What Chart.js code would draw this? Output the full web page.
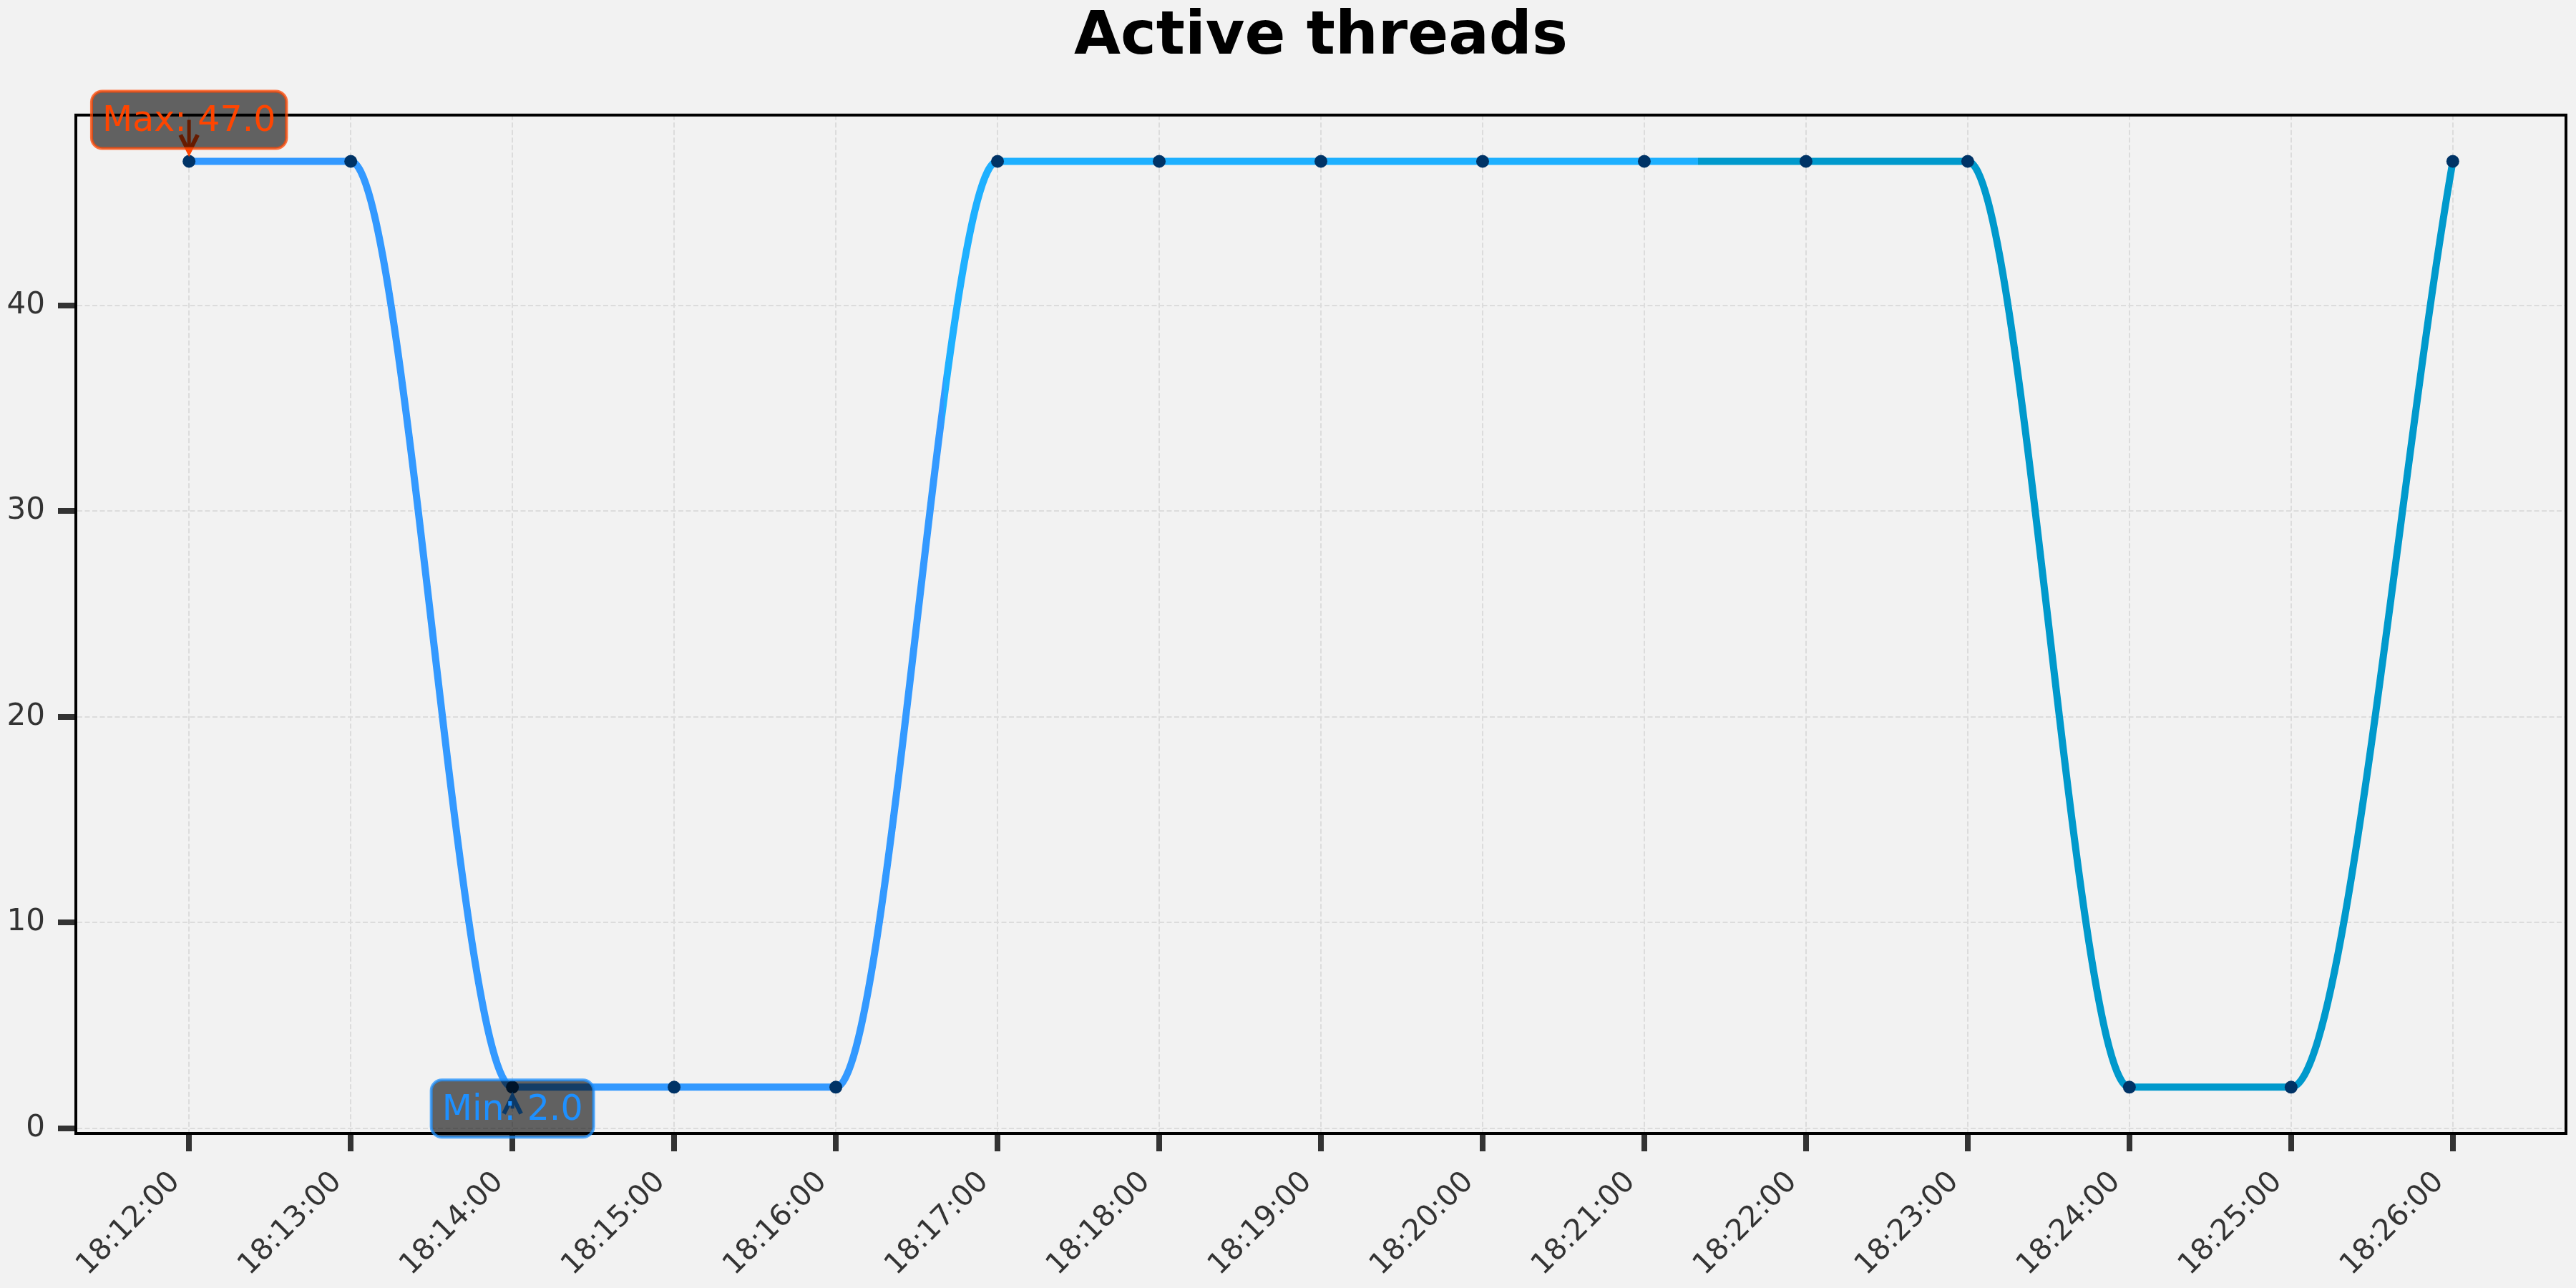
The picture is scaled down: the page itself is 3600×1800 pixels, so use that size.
<!DOCTYPE html>
<html>
<head>
<meta charset="utf-8">
<script src="https://cdn.jsdelivr.net/npm/chart.js@4.4.1/dist/chart.umd.min.js"></script>
<style>
html,body{margin:0;padding:0;background:#f2f2f2;}
canvas{display:block;}
</style>
</head>
<body>
<canvas id="c" width="3600" height="1800"></canvas>
<script>
// ---- data ----
const timeLabels = ['18:12:00','18:13:00','18:14:00','18:15:00','18:16:00','18:17:00','18:18:00','18:19:00','18:20:00','18:21:00','18:22:00','18:23:00','18:24:00','18:25:00','18:26:00'];
const minuteOffsets = [0,1,2,3,4,5,6,7,8,9,10,11,12,13,14];
const activeThreads = [47,47,2,2,2,47,47,47,47,47,47,47,2,2,47];
const yTickValues = [0,10,20,30,40];
const chartTitle = 'Active threads';

// ---- styles ----
const lineColors = ['#3399ff','#1eb0ff','#0099cc'];
const FONT = 'DejaVu Sans';
Chart.defaults.font.family = FONT;

const dataRange = Math.max(...activeThreads) - Math.min(...activeThreads);
const yMin = Math.min(...activeThreads) - 0.05 * dataRange;
const yMax = Math.max(...activeThreads) + 0.05 * dataRange;
const xSpan = minuteOffsets[minuteOffsets.length-1] - minuteOffsets[0];
const xMin = minuteOffsets[0] - 0.05 * xSpan;
const xMax = minuteOffsets[minuteOffsets.length-1] + 0.05 * xSpan;

function lineGradient(context) {
  const chart = context.chart;
  const xs = chart.scales && chart.scales.x;
  if (!chart.chartArea || !xs) return lineColors[0];
  const x0 = xs.getPixelForValue(minuteOffsets[0]);
  const x1 = xs.getPixelForValue(minuteOffsets[minuteOffsets.length-1]);
  const g = chart.ctx.createLinearGradient(x0, 0, x1, 0);
  const n = lineColors.length;
  lineColors.forEach((c, k) => {
    g.addColorStop(k / n, c);
    g.addColorStop((k + 1) / n - 1e-6, c);
  });
  return g;
}

const framePlugin = {
  id: 'frame',
  beforeDatasetsDraw(chart) {
    const {ctx, chartArea: a} = chart;
    ctx.save();
    ctx.strokeStyle = '#000';
    ctx.lineWidth = 4;
    ctx.strokeRect(a.left, a.top, a.right - a.left, a.bottom - a.top);
    ctx.restore();
  }
};

const extremesPlugin = {
  id: 'extremes',
  afterDatasetsDraw(chart) {
    const ctx = chart.ctx, xs = chart.scales.x, ys = chart.scales.y;
    const maxV = Math.max(...activeThreads), minV = Math.min(...activeThreads);
    const iMax = activeThreads.indexOf(maxV), iMin = activeThreads.indexOf(minV);
    const items = [
      {i: iMax, v: maxV, text: 'Max: ' + maxV.toFixed(1), rgb: '255,69,0', dy: -58},
      {i: iMin, v: minV, text: 'Min: ' + minV.toFixed(1), rgb: '30,144,255', dy: 30}
    ];
    items.forEach(it => {
      const px = xs.getPixelForValue(minuteOffsets[it.i]);
      const py = ys.getPixelForValue(it.v);
      const cy = py + it.dy;
      const s = Math.sign(it.dy);
      ctx.save();
      ctx.font = '49px "' + FONT + '"';
      const tw = ctx.measureText(it.text).width;
      const w = tw + 30, h = 80;
      // arrow (under the box)
      const tip = py + s * 13;
      ctx.strokeStyle = 'rgb(' + it.rgb + ')';
      ctx.lineWidth = 5;
      ctx.beginPath(); ctx.moveTo(px, cy); ctx.lineTo(px, tip); ctx.stroke();
      ctx.lineWidth = 6;
      ctx.lineJoin = 'miter';
      ctx.beginPath();
      ctx.moveTo(px - 12, tip + s * 24); ctx.lineTo(px, tip); ctx.lineTo(px + 12, tip + s * 24);
      ctx.stroke();
      // box
      ctx.beginPath();
      ctx.roundRect(px - w / 2, cy - h / 2, w, h, 15);
      ctx.fillStyle = 'rgba(0,0,0,0.6)';
      ctx.fill();
      ctx.lineWidth = 4;
      ctx.strokeStyle = 'rgba(' + it.rgb + ',0.75)';
      ctx.stroke();
      // text
      ctx.fillStyle = 'rgb(' + it.rgb + ')';
      ctx.textAlign = 'center';
      ctx.textBaseline = 'alphabetic';
      ctx.fillText(it.text, px, cy + 16);
      ctx.restore();
    });
  }
};

new Chart(document.getElementById('c'), {
  type: 'line',
  data: {
    datasets: [{
      data: minuteOffsets.map((m, i) => ({x: m, y: activeThreads[i]})),
      borderColor: lineGradient,
      borderWidth: 10,
      borderCapStyle: 'round',
      borderJoinStyle: 'round',
      cubicInterpolationMode: 'monotone',
      tension: 0.4,
      fill: false,
      pointRadius: 9,
      pointHoverRadius: 9,
      pointBackgroundColor: '#003366',
      pointBorderColor: '#003366',
      pointBorderWidth: 0
    }]
  },
  options: {
    responsive: false,
    devicePixelRatio: 1,
    animation: false,
    events: [],
    layout: {padding: {left: 0, right: 14, top: 0, bottom: 0}},
    plugins: {
      legend: {display: false},
      tooltip: {enabled: false},
      title: {
        display: true,
        text: chartTitle,
        fullSize: false,
        color: '#000',
        font: {size: 84, weight: 'bold', lineHeight: 1.2},
        padding: {top: 3, bottom: 57}
      }
    },
    scales: {
      x: {
        type: 'linear',
        min: xMin, max: xMax,
        afterBuildTicks: s => { s.ticks = minuteOffsets.map(v => ({value: v})); },
        afterFit: s => { s.height = 216; },
        ticks: {
          autoSkip: false, minRotation: 45, maxRotation: 45,
          color: '#333', font: {size: 41}, padding: 19, labelOffset: -19,
          callback: v => { const k = minuteOffsets.indexOf(v); return k >= 0 ? timeLabels[k] : ''; }
        },
        grid: {color: '#dcdcdc', lineWidth: 2, tickLength: 25, tickWidth: 8, tickColor: '#333'},
        border: {display: true, color: '#000', width: 4, dash: [7, 3.5]}
      },
      y: {
        type: 'linear',
        min: yMin, max: yMax,
        afterBuildTicks: s => { s.ticks = yTickValues.map(v => ({value: v})); },
        afterFit: s => { s.width = 106; },
        ticks: {color: '#333', font: {size: 42}, padding: 18, callback: v => String(v)},
        grid: {color: '#dcdcdc', lineWidth: 2, tickLength: 25, tickWidth: 8, tickColor: '#333'},
        border: {display: true, color: '#000', width: 4, dash: [7, 3.5]}
      }
    }
  },
  plugins: [framePlugin, extremesPlugin]
});
</script>
</body>
</html>
